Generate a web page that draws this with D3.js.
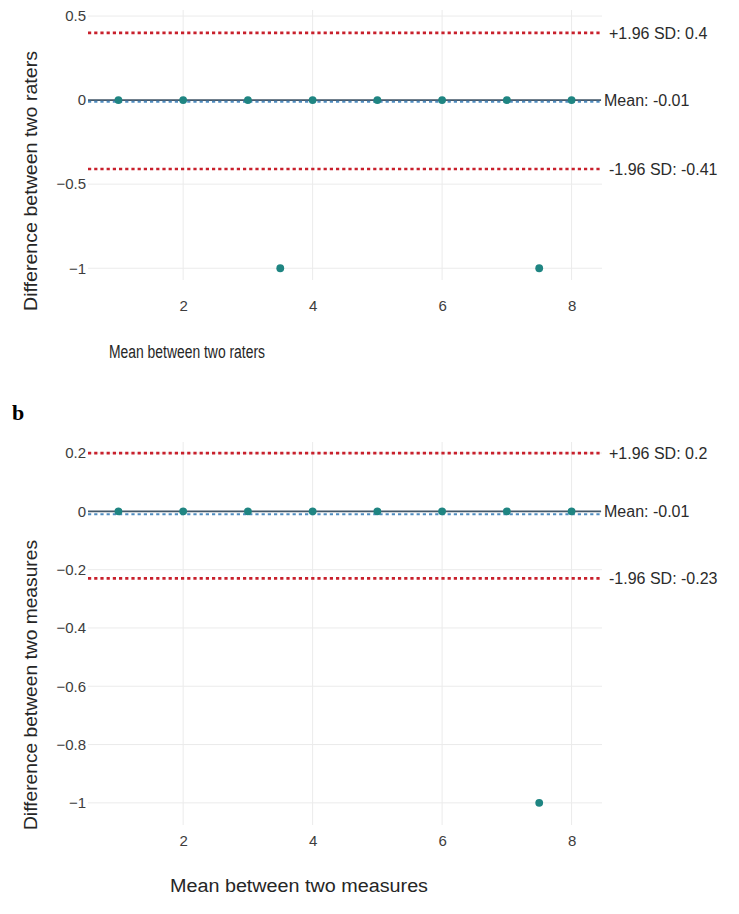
<!DOCTYPE html>
<html>
<head>
<meta charset="utf-8">
<script src="https://cdn.jsdelivr.net/npm/d3@7"></script>
<style>
  body { margin: 0; background: #fff; }
  svg { display: block; }
</style>
</head>
<body>
<div id="chart"></div>
<script>
// panel a: raters
var ratersMean = [1, 2, 3, 4, 5, 6, 7, 8, 3.5, 7.5];
var ratersDiff = [0, 0, 0, 0, 0, 0, 0, 0, -1, -1];
var ratersLimits = [0.4, -0.01, -0.41];
var ratersTicksY = [-1, -0.5, 0, 0.5];

// panel b: measures
var measuresMean = [1, 2, 3, 4, 5, 6, 7, 8, 7.5];
var measuresDiff = [0, 0, 0, 0, 0, 0, 0, 0, -1];
var measuresLimits = [0.2, -0.01, -0.23];
var measuresTicksY = [-1, -0.8, -0.6, -0.4, -0.2, 0, 0.2];

var ticksX = [2, 4, 6, 8];
var limitLabels = ['+1.96 SD: ', 'Mean: ', '-1.96 SD: '];

var width = 739, height = 914;

var svg = d3.select('#chart').append('svg')
    .attr('width', width)
    .attr('height', height)
    .style('font-family', 'Arial, "Liberation Sans", sans-serif');

var fmtY = function(d) { return d3.format('')(d).replace('-', '\u2212'); };

function drawPanel(cfg) {
    var x = d3.scaleLinear().domain([0.53, 8.47]).range([88, 602]);
    var y = d3.scaleLinear().domain(cfg.yDomain).range([cfg.bottom, cfg.top]);

    var g = svg.append('g');

    // grid
    g.selectAll('.gx').data(ticksX).enter().append('line')
        .attr('x1', d => x(d)).attr('x2', d => x(d))
        .attr('y1', cfg.top).attr('y2', cfg.bottom)
        .attr('stroke', '#ebebeb').attr('stroke-width', 1);
    g.selectAll('.gy').data(cfg.ticksY).enter().append('line')
        .attr('x1', 88).attr('x2', 602)
        .attr('y1', d => y(d)).attr('y2', d => y(d))
        .attr('stroke', '#ebebeb').attr('stroke-width', 1);

    // axes (labels only)
    var ay = g.append('g')
        .attr('transform', 'translate(88,0)')
        .call(d3.axisLeft(y).tickValues(cfg.ticksY).tickFormat(fmtY).tickSize(0).tickPadding(2));
    var ax = g.append('g')
        .attr('transform', 'translate(0,' + cfg.bottom + ')')
        .call(d3.axisBottom(x).tickValues(ticksX).tickSize(0).tickPadding(cfg.xPad));
    [ax, ay].forEach(function(a) {
        a.select('.domain').remove();
        a.selectAll('text').attr('fill', '#3d3d3d').style('font-size', '15px')
            .style('font-family', 'Arial, "Liberation Sans", sans-serif');
    });

    // limits of agreement
    var lim = cfg.limits;
    g.append('line')
        .attr('x1', 88).attr('x2', 601)
        .attr('y1', y(0)).attr('y2', y(0))
        .attr('stroke', '#44596a').attr('stroke-width', 1.7);
    g.selectAll('.lim').data(lim).enter().append('line')
        .attr('x1', 88).attr('x2', 601)
        .attr('y1', d => y(d)).attr('y2', d => y(d))
        .attr('stroke', (d, i) => i == 1 ? '#4f8cc0' : '#c8202c')
        .attr('stroke-width', (d, i) => i == 1 ? 2 : 2.6)
        .attr('stroke-dasharray', '3.2,3');

    g.selectAll('.limText').data(lim).enter().append('text')
        .attr('x', (d, i) => i == 1 ? 604 : 609)
        .attr('y', (d, i) => i == 1 ? y(0) : y(d))
        .attr('dy', '0.36em')
        .attr('fill', '#2b2b2b')
        .style('font-size', '16px')
        .text((d, i) => limitLabels[i] + d);

    // points
    g.selectAll('.pt').data(cfg.xs).enter().append('circle')
        .attr('cx', d => x(d))
        .attr('cy', (d, i) => y(cfg.ys[i]))
        .attr('r', 3.9)
        .attr('fill', '#1f8582');

    // titles
    g.append('text')
        .attr('x', cfg.xTitle[0]).attr('y', cfg.xTitle[1])
        .attr('textLength', cfg.xTitle[2]).attr('lengthAdjust', 'spacingAndGlyphs')
        .attr('fill', '#262626')
        .style('font-size', cfg.xTitle[3] + 'px')
        .text(cfg.xLabel);
    g.append('text')
        .attr('transform', 'translate(' + cfg.yTitle[0] + ',' + cfg.yTitle[1] + ') rotate(-90)')
        .attr('text-anchor', 'middle')
        .attr('dy', '0.36em')
        .attr('textLength', cfg.yTitle[2]).attr('lengthAdjust', 'spacingAndGlyphs')
        .attr('fill', '#262626')
        .style('font-size', '18.5px')
        .text(cfg.yLabel);
}

drawPanel({
    xs: ratersMean, ys: ratersDiff, limits: ratersLimits, ticksY: ratersTicksY,
    yDomain: [-1.07, 0.536], top: 10, bottom: 280, xPad: 20,
    xLabel: 'Mean between two raters', xTitle: [109, 358, 156, 18],
    yLabel: 'Difference between two raters', yTitle: [30, 181, 260]
});

drawPanel({
    xs: measuresMean, ys: measuresDiff, limits: measuresLimits, ticksY: measuresTicksY,
    yDomain: [-1.076, 0.238], top: 442, bottom: 825, xPad: 10,
    xLabel: 'Mean between two measures', xTitle: [170, 892, 258, 18],
    yLabel: 'Difference between two measures', yTitle: [30, 685, 290]
});

svg.append('text')
    .attr('x', 12).attr('y', 420)
    .style('font-family', '"Liberation Serif", "DejaVu Serif", serif')
    .style('font-weight', 'bold')
    .style('font-size', '22px')
    .text('b');
</script>
</body>
</html>
